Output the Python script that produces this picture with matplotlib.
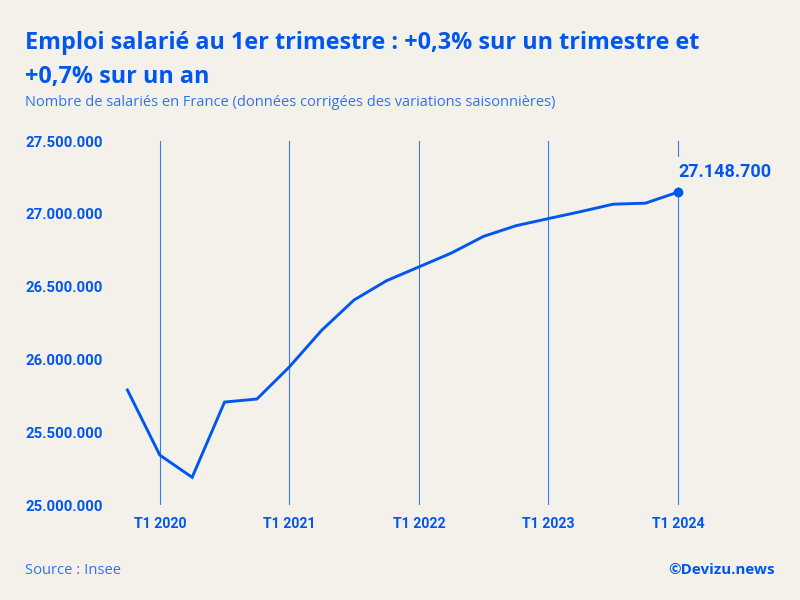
import matplotlib.pyplot as plt
from matplotlib.ticker import FuncFormatter

quarters = ['T4 2019', 'T1 2020', 'T2 2020', 'T3 2020', 'T4 2020', 'T1 2021', 'T2 2021', 'T3 2021', 'T4 2021',
            'T1 2022', 'T2 2022', 'T3 2022', 'T4 2022', 'T1 2023', 'T2 2023', 'T3 2023', 'T4 2023', 'T1 2024']
salaries = [25790000, 25343000, 25190000, 25707000, 25728000, 25948000, 26200000, 26408000, 26540000,
            26635000, 26730000, 26845000, 26918000, 26967000, 27015000, 27066000, 27073000, 27148700]
y_ticks = [25000000, 25500000, 26000000, 26500000, 27000000, 27500000]
last_label = '27.148.700'

BLUE = '#0057EE'
BG = '#F4F1EB'
W, H = 800, 600

fig = plt.figure(figsize=(8, 6), dpi=100, facecolor=BG)
# axes run a little past the last quarter so its vertical line is not clipped
ax = fig.add_axes([127.4 / W, 1 - 505 / H, 17.5 * 32.38 / W, 364 / H], facecolor=BG)

positions = list(range(len(quarters)))
ax.plot(positions, salaries, color=BLUE, lw=2.1, solid_joinstyle='miter', clip_on=False, zorder=3)
ax.plot(positions[-1], salaries[-1], 'o', color=BLUE, ms=6, clip_on=False, zorder=4)

ax.set_xlim(0, 17.5)
ax.set_ylim(y_ticks[0], y_ticks[-1])

# only first quarters get a tick and a vertical line
t1_pos = [p for p in positions if quarters[p].startswith('T1')]
ax.set_xticks(t1_pos)
ax.set_xticklabels([quarters[p] for p in t1_pos], family='Roboto', weight='bold', fontsize=10.2, color=BLUE)
ax.set_yticks(y_ticks)
ax.yaxis.set_major_formatter(FuncFormatter(lambda v, _: f'{int(v):,}'.replace(',', '.')))
for lab in ax.get_yticklabels():
    lab.set(family='Roboto', weight='bold', fontsize=10.7, color=BLUE, ha='left')

ax.tick_params(axis='x', length=0, pad=8.5)
ax.tick_params(axis='y', length=0, pad=102.4 * 0.72)
ax.grid(axis='x', color='#3B7BF0', lw=0.8)
ax.grid(axis='y', visible=False)
for s in ax.spines.values():
    s.set_visible(False)

# value label with background, hides part of the last vertical line
ax.annotate(last_label, (positions[-1], salaries[-1]), xytext=(0.5, 8), textcoords='offset points',
            family='Roboto', weight='bold', fontsize=13, color=BLUE, ha='left', va='bottom',
            bbox=dict(facecolor=BG, edgecolor='none', pad=4), annotation_clip=False, zorder=2)

fig.text(25 / W, 1 - 43 / H, 'Emploi salarié au 1er trimestre : +0,3% sur un trimestre et', family='Open Sans',
         weight='bold', fontsize=16.8, color=BLUE, va='center')
fig.text(25 / W, 1 - 76.5 / H, '+0,7% sur un an', family='Open Sans', weight='bold', fontsize=16.8, color=BLUE,
         va='center')
fig.text(25 / W, 1 - 102.5 / H, 'Nombre de salariés en France (données corrigées des variations saisonnières)',
         family='Open Sans', fontsize=10.5, color='#2F72EE', va='center')
fig.text(25 / W, 1 - 571 / H, 'Source : Insee', family='Open Sans', fontsize=10.6, color='#2F72EE', va='center')
fig.text(775 / W, 1 - 570 / H, '©Devizu.news', family='Open Sans', weight='bold', fontsize=10.9, color=BLUE,
         va='center', ha='right')

fig.savefig('out.png', dpi=100, facecolor=BG)
